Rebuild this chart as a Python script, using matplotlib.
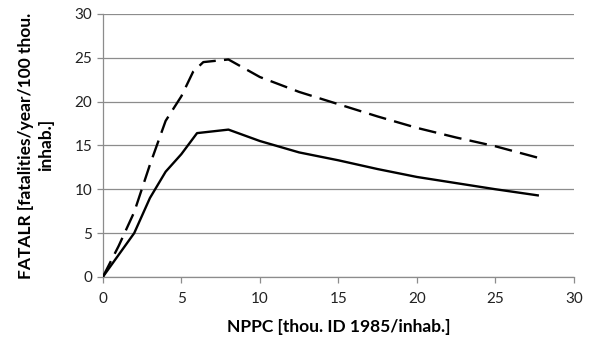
import matplotlib
matplotlib.use("Agg")
import matplotlib.pyplot as plt

# solid curve
x_solid = [0, 1, 2, 3, 4, 5, 6, 8, 10, 12.5, 15, 17.5, 20, 22.5, 25, 27.7]
y_solid = [0, 2.5, 5, 9, 12, 14, 16.4, 16.8, 15.5, 14.2, 13.3, 12.3, 11.4, 10.7, 10.0, 9.3]

# dashed curve
x_dash = [0, 1, 2, 3, 4, 5, 5.75, 6.4, 8, 10, 12.5, 15, 17.5, 20, 22.5, 25, 27.7]
y_dash = [0, 3.5, 7.4, 12.8, 17.8, 20.6, 23.4, 24.5, 24.8, 22.8, 21.1, 19.7, 18.3, 17.0, 15.9, 14.9, 13.6]

xticks = [0, 5, 10, 15, 20, 25, 30]
yticks = [0, 5, 10, 15, 20, 25, 30]

plt.rcParams['font.family'] = ['Lato', 'DejaVu Sans']

fig = plt.figure(figsize=(5.91, 3.47), dpi=100)
ax = fig.add_axes([0.174, 0.202, 0.797, 0.758])

grid_c = "#8c8c8c"
ax.plot(x_solid, y_solid, color="black", lw=1.7, zorder=3)
ax.plot(x_dash, y_dash, color="black", lw=1.7, dashes=(7.5, 3.5), zorder=3)

ax.set_xlim(0, 30)
ax.set_ylim(0, 30)
ax.set_xticks(xticks)
ax.set_yticks(yticks)
ax.yaxis.grid(True, color=grid_c, lw=0.9)
ax.set_axisbelow(True)

for s in ["top", "right"]:
    ax.spines[s].set_visible(False)
for s in ["left", "bottom"]:
    ax.spines[s].set_color(grid_c)
    ax.spines[s].set_linewidth(0.9)

ax.tick_params(axis="both", colors=grid_c, length=4, width=0.9,
               labelcolor="#222222", labelsize=11)
ax.tick_params(axis="x", pad=7)

ax.set_xlabel("NPPC [thou. ID 1985/inhab.]", fontsize=12.5, fontweight="bold", labelpad=9)
ax.set_ylabel("FATALR [fatalities/year/100 thou.\ninhab.]", fontsize=12.5,
              fontweight="bold", labelpad=15, linespacing=1.3)

fig.savefig("out.png", dpi=100)
